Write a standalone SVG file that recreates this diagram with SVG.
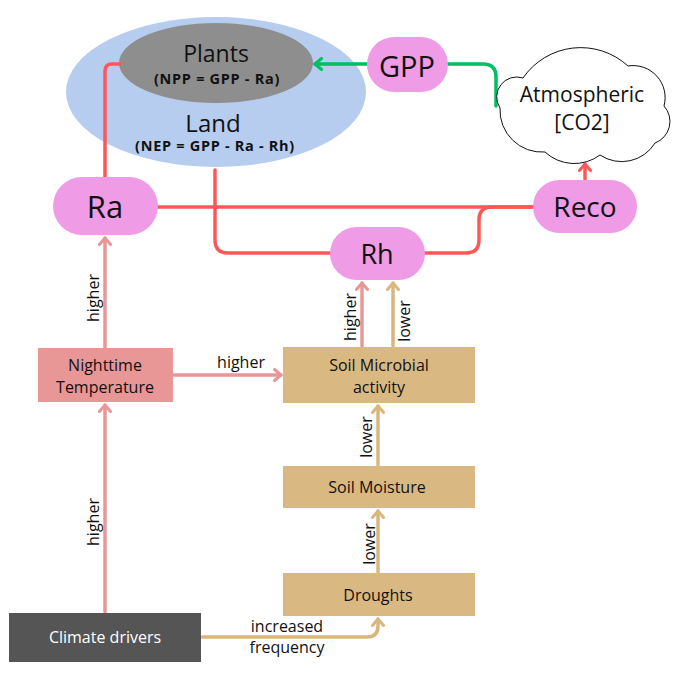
<svg xmlns="http://www.w3.org/2000/svg" width="680" height="683" viewBox="0 0 680 683">
<defs>
<style>
text{font-family:"Open Sans","Noto Sans","DejaVu Sans",sans-serif;fill:#111;}
.lbl{font-size:16px;}
.mid{text-anchor:middle;}
.rot{text-anchor:middle;dominant-baseline:central;font-size:16px;}
.pill{fill:#ef9be5;}
.red{stroke:#ff5757;stroke-width:3.5;fill:none;stroke-linecap:round;}
.grn{stroke:#00bf63;stroke-width:3.5;fill:none;stroke-linecap:round;}
.pnk{stroke:#e89797;stroke-width:3.5;fill:none;stroke-linecap:round;}
.tan{stroke:#d8b67e;stroke-width:3.5;fill:none;stroke-linecap:round;}
.big{font-size:28px;text-anchor:middle;dominant-baseline:central;}
.bold{font-size:14.5px;font-weight:bold;text-anchor:middle;letter-spacing:0.7px;}
</style>
<marker id="aRed" viewBox="0 0 10 14" refX="8" refY="7" markerWidth="10" markerHeight="14" markerUnits="userSpaceOnUse" orient="auto"><path d="M1.5,1.5 L8,7 L1.5,12.5" fill="none" stroke="#ff5757" stroke-width="3" stroke-linecap="round" stroke-linejoin="round"/></marker>
<marker id="aGrn" viewBox="0 0 10 14" refX="8" refY="7" markerWidth="10" markerHeight="14" markerUnits="userSpaceOnUse" orient="auto"><path d="M1.5,1.5 L8,7 L1.5,12.5" fill="none" stroke="#00bf63" stroke-width="3" stroke-linecap="round" stroke-linejoin="round"/></marker>
<marker id="aPnk" viewBox="0 0 10 14" refX="8" refY="7" markerWidth="10" markerHeight="14" markerUnits="userSpaceOnUse" orient="auto"><path d="M1.5,1.5 L8,7 L1.5,12.5" fill="none" stroke="#e89797" stroke-width="3" stroke-linecap="round" stroke-linejoin="round"/></marker>
<marker id="aTan" viewBox="0 0 10 14" refX="8" refY="7" markerWidth="10" markerHeight="14" markerUnits="userSpaceOnUse" orient="auto"><path d="M1.5,1.5 L8,7 L1.5,12.5" fill="none" stroke="#d8b67e" stroke-width="3" stroke-linecap="round" stroke-linejoin="round"/></marker>
</defs>
<rect width="680" height="683" fill="#fff"/>

<g id="land">
<ellipse cx="216" cy="92" rx="150" ry="75" fill="#b6cdef"/>
<text class="mid" x="213" y="132" style="font-size:24px">Land</text>
<text class="bold" x="215" y="151">(NEP = GPP - Ra - Rh)</text>
</g>
<g id="plants">
<ellipse cx="216" cy="63" rx="97" ry="40" fill="#8e8e8e"/>
<text class="mid" x="216" y="62" style="font-size:23px">Plants</text>
<text class="bold" x="217" y="84">(NPP = GPP - Ra)</text>
</g>

<g id="connectors">
<path class="red" d="M120 64 H112 Q105 64 105 71 V177"/>
<path class="red" d="M158 207 H533"/>
<path class="red" d="M215 170 V240 Q215 253 228 253 H330"/>
<path class="red" d="M425 253 H466 Q479 253 479 240 V220 Q479 207 492 207 H533"/>
<path class="red" d="M585 179 V164" marker-end="url(#aRed)"/>
<path class="grn" d="M367 64 H315" marker-end="url(#aGrn)"/>
<path class="grn" d="M448 64 H483 Q496 64 496 77 V106"/>
<path class="pnk" d="M105 348 V238" marker-end="url(#aPnk)"/>
<path class="pnk" d="M105 612 V405" marker-end="url(#aPnk)"/>
<path class="pnk" d="M174 375 H281" marker-end="url(#aPnk)"/>
<path class="pnk" d="M362 346 V283" marker-end="url(#aPnk)"/>
<path class="tan" d="M393 346 V283" marker-end="url(#aTan)"/>
<path class="tan" d="M378 465 V406" marker-end="url(#aTan)"/>
<path class="tan" d="M378 572 V511" marker-end="url(#aTan)"/>
<path class="tan" d="M202 637 H367 Q378 637 378 626 V619" marker-end="url(#aTan)"/>
<text class="rot" transform="rotate(-90 93 298)" x="93" y="298">higher</text>
<text class="rot" transform="rotate(-90 93 522)" x="93" y="522">higher</text>
<text class="rot" transform="rotate(-90 350 317)" x="350" y="317">higher</text>
<text class="rot" transform="rotate(-90 404 321)" x="404" y="321">lower</text>
<text class="rot" transform="rotate(-90 366 437)" x="366" y="437">lower</text>
<text class="rot" transform="rotate(-90 369 544)" x="369" y="544">lower</text>
<text class="lbl mid" x="241" y="368">higher</text>
<text class="lbl mid" x="287" y="632">increased</text>
<text class="lbl mid" x="287" y="653">frequency</text>
</g>

<g id="gpp">
<rect class="pill" x="367" y="37" width="81" height="55" rx="27.5"/>
<text class="big" x="407" y="65" style="font-size:29px">GPP</text>
</g>
<g id="atmosphere">
<path d="M500 108 A20 20 0 0 1 523 78 A70 70 0 0 1 628 66 A32 32 0 0 1 664 106 A23 23 0 0 1 655 143 A39 39 0 0 1 600 155 A43 43 0 0 1 545 152 A42 42 0 0 1 500 108 Z" fill="#fff" stroke="#111" stroke-width="1"/>
<text class="mid" x="582" y="102" style="font-size:21px">Atmospheric</text>
<text class="mid" x="582" y="130" style="font-size:21px">[CO2]</text>
</g>
<g id="ra">
<rect class="pill" x="53" y="177" width="105" height="58" rx="29"/>
<text class="big" x="105" y="206" style="font-size:31px">Ra</text>
</g>
<g id="reco">
<rect class="pill" x="533" y="180" width="104" height="53" rx="26.5"/>
<text class="big" x="585" y="206">Reco</text>
</g>
<g id="rh">
<rect class="pill" x="330" y="227" width="95" height="53" rx="26.5"/>
<text class="big" x="377" y="253" style="font-size:27px">Rh</text>
</g>
<g id="nighttime">
<rect x="38" y="348" width="135" height="54" fill="#e89696"/>
<text class="lbl mid" x="105" y="371">Nighttime</text>
<text class="lbl mid" x="105" y="393">Temperature</text>
</g>
<g id="microbial">
<rect x="283" y="347" width="192" height="56" fill="#dab882"/>
<text class="lbl mid" x="379" y="371">Soil Microbial</text>
<text class="lbl mid" x="379" y="393">activity</text>
</g>
<g id="moisture">
<rect x="283" y="466" width="192" height="42" fill="#dab882"/>
<text class="lbl mid" x="377" y="493">Soil Moisture</text>
</g>
<g id="droughts">
<rect x="283" y="573" width="192" height="43" fill="#dab882"/>
<text class="lbl mid" x="378" y="601">Droughts</text>
</g>
<g id="climate">
<rect x="9" y="613" width="192" height="49" fill="#555"/>
<text class="lbl mid" x="105" y="643" style="fill:#fff">Climate drivers</text>
</g>
</svg>
